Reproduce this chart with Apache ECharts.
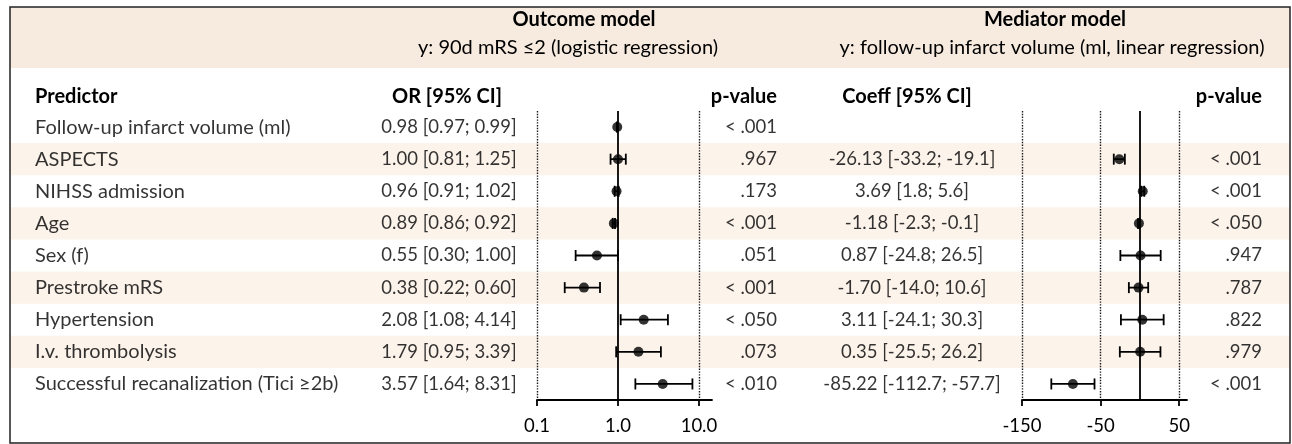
<!DOCTYPE html>
<html>
<head>
<meta charset="utf-8">
<script src="https://cdn.jsdelivr.net/npm/echarts@6/dist/echarts.min.js"></script>
<style>
  html, body { margin: 0; padding: 0; background: #fff; }
  #chart { width: 1292px; height: 444px; }
</style>
</head>
<body>
<div id="chart"></div>
<script>
// 行名
const predictors = [
  'Follow-up infarct volume (ml)', 'ASPECTS', 'NIHSS admission', 'Age', 'Sex (f)',
  'Prestroke mRS', 'Hypertension', 'I.v. thrombolysis', 'Successful recanalization (Tici \u22652b)'
]
// Outcome model (OR)
const orVal = [0.98, 1.00, 0.96, 0.89, 0.55, 0.38, 2.08, 1.79, 3.57]
const orLo = [0.97, 0.81, 0.91, 0.86, 0.30, 0.22, 1.08, 0.95, 1.64]
const orHi = [0.99, 1.25, 1.02, 0.92, 1.00, 0.60, 4.14, 3.39, 8.31]
const orP = ['< .001', '.967', '.173', '< .001', '.051', '< .001', '< .050', '.073', '< .010']
// Mediator model (Coeff)
const coefVal = [null, -26.13, 3.69, -1.18, 0.87, -1.70, 3.11, 0.35, -85.22]
const coefLo = [null, -33.2, 1.8, -2.3, -24.8, -14.0, -24.1, -25.5, -112.7]
const coefHi = [null, -19.1, 5.6, -0.1, 26.5, 10.6, 30.3, 26.2, -57.7]
const coefP = ['', '< .001', '< .001', '< .050', '.947', '.787', '.822', '.979', '< .001']
// 刻度
const orTicks = [0.1, 1, 10]
const coefTicks = [-150, -50, 50]

const FONT = 'Lato, "Open Sans", sans-serif'
const FS = 20 // 文字
const FN = 18.5 // 数字列
const TXT = '#000'
const HEAD_BG = '#f7ebe0'
const STRIPE = '#fcf3eb'

const orText = orVal.map((v, i) => `${v.toFixed(2)} [${orLo[i].toFixed(2)}; ${orHi[i].toFixed(2)}]`)
const coefText = coefVal.map((v, i) => v == null ? '' : `${v.toFixed(2)} [${coefLo[i].toFixed(1)}; ${coefHi[i].toFixed(1)}]`)

const chart = echarts.init(document.getElementById('chart'))

// 文本列
const textColumn = (x, texts, align, size) => ({
  type: 'scatter',
  xAxisIndex: 0,
  yAxisIndex: 0,
  symbolSize: 1,
  itemStyle: { color: 'rgba(0,0,0,0)' },
  silent: true,
  data: texts.map((t, i) => [x, i, t]),
  label: {
    show: true,
    position: 'inside',
    align,
    verticalAlign: 'middle',
    fontFamily: FONT,
    fontSize: size,
    color: TXT,
    formatter: p => p.data[2]
  }
})

// 误差线
const errorBars = (idx, lo, hi) => ({
  type: 'custom',
  xAxisIndex: idx,
  yAxisIndex: idx,
  silent: true,
  z: 3,
  encode: { x: [0, 1], y: 2 },
  data: lo.map((l, i) => (l == null ? null : [l, hi[i], i])).filter(d => d),
  renderItem: (params, api) => {
    const p0 = api.coord([api.value(0), api.value(2)])
    const p1 = api.coord([api.value(1), api.value(2)])
    const h = 5.5
    const style = { stroke: '#000', lineWidth: 1.8 }
    return {
      type: 'group',
      children: [
        { type: 'line', shape: { x1: p0[0], y1: p0[1], x2: p1[0], y2: p1[1] }, style },
        { type: 'line', shape: { x1: p0[0], y1: p0[1] - h, x2: p0[0], y2: p0[1] + h }, style },
        { type: 'line', shape: { x1: p1[0], y1: p1[1] - h, x2: p1[0], y2: p1[1] + h }, style }
      ]
    }
  }
})

const points = (idx, vals, refLines) => ({
  type: 'scatter',
  xAxisIndex: idx,
  yAxisIndex: idx,
  symbol: 'circle',
  symbolSize: 10,
  z: 4,
  itemStyle: { color: '#000' },
  data: vals.map((v, i) => (v == null ? null : [v, i])).filter(d => d),
  markLine: {
    silent: true,
    symbol: 'none',
    label: { show: false },
    data: refLines
  }
})

const dotted = { type: 'dotted', color: '#1a1a1a', width: 1.4 }
const solid = { type: 'solid', color: '#000', width: 1.8 }

const catAxis = (gridIndex, extra) => Object.assign({
  type: 'category',
  gridIndex,
  inverse: true,
  data: predictors,
  boundaryGap: true,
  axisLine: { show: false },
  axisTick: { show: false },
  axisLabel: { show: false },
  splitLine: { show: false }
}, extra)

const forestXAxis = (gridIndex, extra, formatter, ticks) => Object.assign({
  gridIndex,
  axisLine: { show: true, onZero: false, lineStyle: { color: '#000', width: 1.8 } },
  axisTick: { show: true, length: 6, customValues: ticks, lineStyle: { color: '#000', width: 1.8 } },
  axisLabel: {
    show: true, customValues: ticks, margin: 17,
    fontFamily: FONT, fontSize: FN, color: TXT, formatter
  },
  splitLine: { show: false }
}, extra)

const headText = (x, y, text, align, bold) => ({
  type: 'text',
  x, y,
  z: 10,
  style: {
    text,
    align,
    verticalAlign: 'middle',
    font: `${bold ? 'bold ' : ''}${FS}px ${FONT}`,
    fill: TXT
  }
})

const option = {
  animation: false,
  backgroundColor: '#fff',
  grid: [
    { left: 10, width: 1280, top: 111, height: 289 },
    { left: 537, width: 175, top: 111, height: 289 },
    { left: 1022, width: 165, top: 111, height: 289 }
  ],
  xAxis: [
    { type: 'value', gridIndex: 0, min: 10, max: 1290, show: false },
    forestXAxis(1, { type: 'log', logBase: 10, min: 0.1, max: 14.5 }, v => Number(v).toFixed(1), orTicks),
    forestXAxis(2, { type: 'value', min: -150, max: 60 }, v => String(v), coefTicks)
  ],
  yAxis: [
    catAxis(0, { splitArea: { show: true, areaStyle: { color: ['rgba(255,255,255,0)', STRIPE] } } }),
    catAxis(1),
    catAxis(2)
  ],
  graphic: [
    { type: 'rect', z: -1, shape: { x: 10, y: 7, width: 1280, height: 61 }, style: { fill: HEAD_BG } },
    headText(584, 20, 'Outcome model', 'center', true),
    headText(568, 48, 'y: 90d mRS \u22642 (logistic regression)', 'center', false),
    headText(1055, 20, 'Mediator model', 'center', true),
    headText(1052, 48, 'y: follow-up infarct volume (ml, linear regression)', 'center', false),
    headText(35, 97, 'Predictor', 'left', true),
    headText(447, 97, 'OR [95% CI]', 'center', true),
    headText(777, 97, 'p-value', 'right', true),
    headText(907, 97, 'Coeff [95% CI]', 'center', true),
    headText(1262, 97, 'p-value', 'right', true),
    { type: 'rect', z: 20, shape: { x: 10, y: 7, width: 1280, height: 436 }, style: { fill: 'none', stroke: '#222', lineWidth: 1.5 } }
  ],
  series: [
    textColumn(35, predictors, 'left', FS),
    textColumn(449, orText, 'center', FN),
    textColumn(777, orP, 'right', FN),
    textColumn(912, coefText, 'center', FN),
    textColumn(1262, coefP, 'right', FN),
    errorBars(1, orLo, orHi),
    points(1, orVal, [
      { xAxis: 0.1, lineStyle: dotted },
      { xAxis: 10, lineStyle: dotted },
      { xAxis: 1, lineStyle: solid }
    ]),
    errorBars(2, coefLo, coefHi),
    points(2, coefVal, [
      { xAxis: -150, lineStyle: dotted },
      { xAxis: -50, lineStyle: dotted },
      { xAxis: 50, lineStyle: dotted },
      { xAxis: 0, lineStyle: solid }
    ])
  ]
}

chart.setOption(option)
</script>
</body>
</html>
